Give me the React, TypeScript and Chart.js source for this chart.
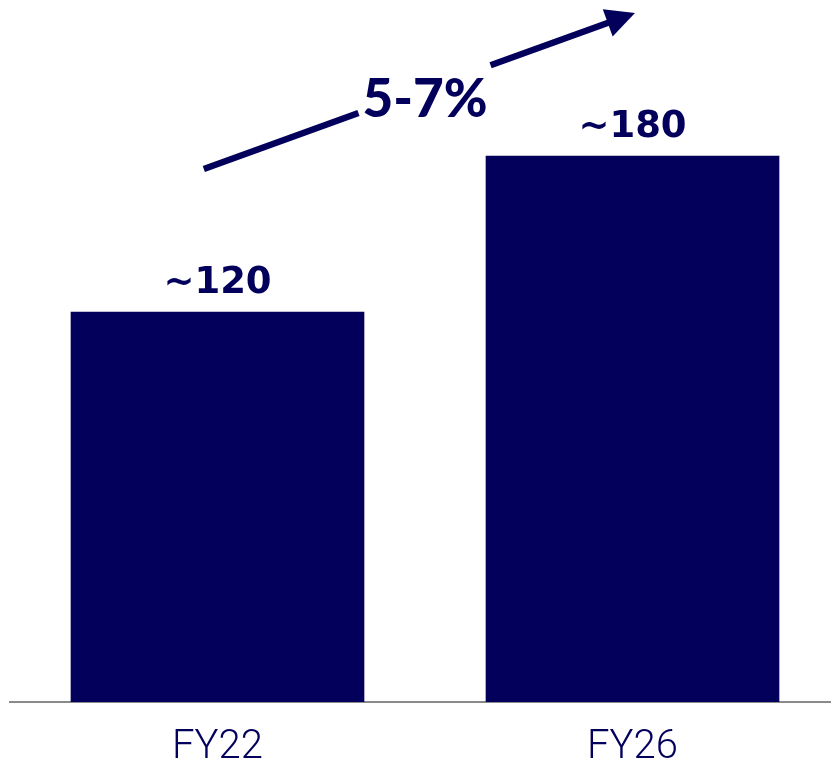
import React, { useEffect, useRef } from "react";
import { Chart, registerables } from "chart.js";

Chart.register(...registerables);

const categories = ["FY22", "FY26"];
const values = [120, 168];
const valueLabels = ["~120", "~180"];
const growthLabel = "5-7%";
// arrow annotation in data space: [category index, value]
const arrowStart = [-0.033, 164];
const arrowEnd = [1.006, 212];
const growthLabelPos = [0.5, 180];

const NAVY = "#03005C";
const GROWTH_FONT = "900 53px Lato";
const VALUE_FONT = "bold 37px 'DejaVu Sans'";

const overlayPlugin = {
  id: "overlay",
  afterDatasetsDraw(chart: any) {
    const ctx = chart.ctx;
    const xs = chart.scales.x;
    const ys = chart.scales.y;
    const meta = chart.getDatasetMeta(0);
    ctx.save();
    ctx.fillStyle = NAVY;
    ctx.font = VALUE_FONT;
    ctx.textAlign = "center";
    ctx.textBaseline = "alphabetic";
    meta.data.forEach((bar: any, i: number) => {
      ctx.fillText(valueLabels[i], bar.x, bar.y - 19);
    });
    ctx.font = GROWTH_FONT;
    const lx = xs.getPixelForValue(growthLabelPos[0]);
    const ly = ys.getPixelForValue(growthLabelPos[1]);
    ctx.fillText(growthLabel, lx, ly);
    const tw = ctx.measureText(growthLabel).width;
    const gapL = lx - tw / 2 - 4;
    const gapR = lx + tw / 2 + 3;
    const x0 = xs.getPixelForValue(arrowStart[0]);
    const y0 = ys.getPixelForValue(arrowStart[1]);
    const x1 = xs.getPixelForValue(arrowEnd[0]);
    const y1 = ys.getPixelForValue(arrowEnd[1]);
    const dx = x1 - x0, dy = y1 - y0;
    const len = Math.hypot(dx, dy);
    const ux = dx / len, uy = dy / len;
    const headLen = 29, headHalf = 14.5;
    const bx = x1 - ux * headLen, by = y1 - uy * headLen;
    const yAt = (x: number) => y0 + (x - x0) * (dy / dx);
    ctx.strokeStyle = NAVY;
    ctx.lineWidth = 6.5;
    ctx.lineCap = "butt";
    ctx.beginPath();
    ctx.moveTo(x0, y0);
    ctx.lineTo(gapL, yAt(gapL));
    ctx.moveTo(gapR, yAt(gapR));
    ctx.lineTo(bx + ux * 2, by + uy * 2);
    ctx.stroke();
    ctx.beginPath();
    ctx.moveTo(x1, y1);
    ctx.lineTo(bx - uy * headHalf, by + ux * headHalf);
    ctx.lineTo(bx + uy * headHalf, by - ux * headHalf);
    ctx.closePath();
    ctx.fill();
    ctx.restore();
  },
};

export default function App() {
  const ref = useRef<HTMLCanvasElement>(null);
  useEffect(() => {
    if (!ref.current) return;
    let alive = true;
    const chart = new Chart(ref.current, {
      type: "bar",
      data: {
        labels: categories,
        datasets: [
          {
            data: values,
            backgroundColor: NAVY,
            barThickness: 293,
          },
        ],
      },
      options: {
        animation: false,
        responsive: false,
        maintainAspectRatio: false,
        layout: { padding: { left: 10, right: 0, top: 0, bottom: 0 } },
        plugins: { legend: { display: false }, tooltip: { enabled: false } },
        scales: {
          x: {
            grid: { display: false, drawTicks: false },
            border: { display: true, color: "#8a8a8a", width: 2 },
            ticks: {
              color: NAVY,
              padding: 22,
              font: { family: "Roboto", weight: "300", size: 40 },
            },
            afterFit(scale: any) {
              scale.height = 62;
            },
          },
          y: {
            display: false,
            min: 0,
            max: 216,
          },
        },
      },
      plugins: [overlayPlugin],
    });
    if ((document as any).fonts) {
      Promise.all([
        (document as any).fonts.load(GROWTH_FONT, growthLabel),
        (document as any).fonts.load(VALUE_FONT, "~0123456789"),
        (document as any).fonts.load("300 40px Roboto", "FY0123456789"),
      ])
        .catch(() => {})
        .then(() => {
          if (alive) chart.update();
        });
    }
    return () => {
      alive = false;
      chart.destroy();
    };
  }, []);
  return (
    <div
      style={{
        position: "absolute",
        left: 0,
        top: 0,
        width: 831,
        height: 764,
        overflow: "hidden",
        background: "#fff",
      }}
    >
      <canvas ref={ref} width={840} height={764} style={{ width: 840, height: 764, display: "block" }} />
    </div>
  );
}
